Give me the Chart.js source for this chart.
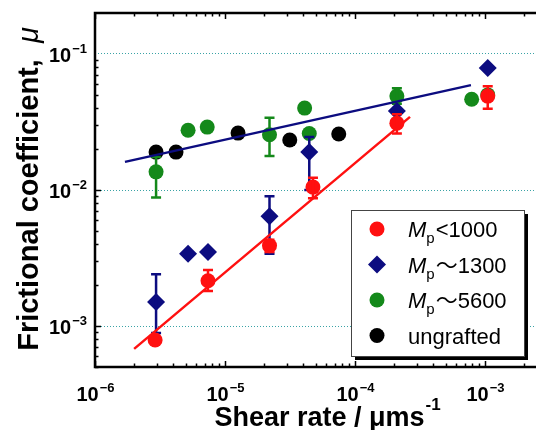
<!DOCTYPE html>
<html>
<head>
<meta charset="utf-8">
<script src="https://cdn.jsdelivr.net/npm/chart.js@4"></script>
<style>
html, body { margin: 0; padding: 0; background: #fff; overflow: hidden; }
#wrap { width: 548px; height: 430px; }
</style>
</head>
<body>
<div id="wrap"><canvas id="chart" width="548" height="430"></canvas></div>
<script>
// shear rate (um/s) and frictional coefficient
var redX = [2.9e-6, 7.4e-6, 2.2e-5, 4.75e-5, 2.1e-4, 1.05e-3];
var redY = [7.9e-4, 2.15e-3, 3.9e-3, 1.05e-2, 3.1e-2, 4.9e-2];
var redLo = [null, 1.81e-3, 3.5e-3, 8.7e-3, 2.6e-2, 3.95e-2];
var redHi = [null, 2.58e-3, 4.3e-3, 1.23e-2, 3.6e-2, 5.8e-2];

var navyX = [2.95e-6, 5.2e-6, 7.4e-6, 2.2e-5, 4.45e-5, 2.1e-4, 1.05e-3];
var navyY = [1.5e-3, 3.4e-3, 3.5e-3, 6.4e-3, 1.9e-2, 3.8e-2, 7.9e-2];
var navyLo = [8.9e-4, null, null, 3.4e-3, 1.0e-2, null, null];
var navyHi = [2.4e-3, null, null, 9.0e-3, 2.45e-2, null, null];

var greenX = [2.95e-6, 5.2e-6, 7.3e-6, 2.2e-5, 4.1e-5, 4.45e-5, 2.1e-4, 7.9e-4, 1.05e-3];
var greenY = [1.36e-2, 2.75e-2, 2.9e-2, 2.55e-2, 4.0e-2, 2.6e-2, 4.9e-2, 4.65e-2, 5.0e-2];
var greenLo = [8.8e-3, null, null, 1.78e-2, null, null, 4.3e-2, null, null];
var greenHi = [1.75e-2, null, null, 3.4e-2, null, null, 5.6e-2, null, null];

var blackX = [2.95e-6, 4.2e-6, 1.26e-5, 3.15e-5, 7.5e-5];
var blackY = [1.9e-2, 1.9e-2, 2.62e-2, 2.33e-2, 2.58e-2];
var blackLo = [null, null, null, 2.15e-2, null];
var blackHi = [null, null, null, 2.45e-2, null];

// fitted lines (end points)
var redFitX = [2.0e-6, 2.65e-4];
var redFitY = [6.8e-4, 3.45e-2];
var navyFitX = [1.7e-6, 7.8e-4];
var navyFitY = [1.61e-2, 5.9e-2];

var legendSub = [true, true, true, false];
var legendText = ['<1000', '\u301C1300', '\u301C5600', 'ungrafted'];

var xDecades = [-6, -5, -4, -3];
var yDecades = [-3, -2, -1];

var RED = '#ff1010', NAVY = '#0c0c80', GREEN = '#14891a', BLACK = '#000000';
var FONT = "'Liberation Sans', Arial, 'Noto Sans CJK JP', sans-serif";

function pts(xs, ys) {
    var out = [];
    for (var i = 0; i < xs.length; i++) out.push({x: xs[i], y: ys[i]});
    return out;
}

function isDecade(v) {
    var l = Math.log10(v);
    return Math.abs(l - Math.round(l)) < 1e-6;
}

var errorBars = {
    id: 'errorBars',
    afterDatasetDraw: function(chart, args) {
        var ds = chart.data.datasets[args.index];
        if (!ds.errLo) return;
        var ctx = chart.ctx, xs = chart.scales.x, ys = chart.scales.y;
        ctx.save();
        ctx.strokeStyle = ds.borderColor;
        ctx.lineWidth = 2.5;
        for (var i = 0; i < ds.data.length; i++) {
            if (ds.errLo[i] == null) continue;
            var px = xs.getPixelForValue(ds.data[i].x);
            var lo = ys.getPixelForValue(ds.errLo[i]);
            var hi = ys.getPixelForValue(ds.errHi[i]);
            ctx.beginPath();
            ctx.moveTo(px, lo); ctx.lineTo(px, hi);
            ctx.moveTo(px - 5, lo); ctx.lineTo(px + 5, lo);
            ctx.moveTo(px - 5, hi); ctx.lineTo(px + 5, hi);
            ctx.stroke();
        }
        ctx.restore();
    }
};

function drawPow(ctx, exp, x, y, align) {
    ctx.font = 'bold 20px ' + FONT;
    var base = '10';
    var w1 = ctx.measureText(base).width;
    ctx.font = 'bold 13px ' + FONT;
    var sup = '\u2212' + Math.abs(exp);
    var w2 = ctx.measureText(sup).width;
    var start = align === 'center' ? x - (w1 + w2) / 2 : x - (w1 + w2);
    ctx.textAlign = 'left';
    ctx.textBaseline = 'alphabetic';
    ctx.font = 'bold 20px ' + FONT;
    ctx.fillText(base, start, y);
    ctx.font = 'bold 13px ' + FONT;
    ctx.fillText(sup, start + w1 + 1, y - 9);
}

var frame = {
    id: 'frame',
    afterDraw: function(chart) {
        var ctx = chart.ctx, a = chart.chartArea;
        var xs = chart.scales.x, ys = chart.scales.y;
        ctx.save();
        ctx.fillStyle = '#000';
        ctx.strokeStyle = '#000';

        // minor + major ticks, pointing inward
        ctx.lineWidth = 1.5;
        ctx.beginPath();
        for (var d = -7; d <= -2; d++) {
            for (var m = 1; m <= 9; m++) {
                var v = m * Math.pow(10, d);
                if (v < xs.min || v > xs.max) continue;
                var len = m === 1 ? 6 : 3.5;
                var px = Math.round(xs.getPixelForValue(v)) + 0.5;
                ctx.moveTo(px, a.bottom); ctx.lineTo(px, a.bottom - len);
                ctx.moveTo(px, a.top); ctx.lineTo(px, a.top + len);
            }
            for (var n = 1; n <= 9; n++) {
                var vy = n * Math.pow(10, d);
                if (vy < ys.min || vy > ys.max) continue;
                var leny = n === 1 ? 6 : 3.5;
                var py = Math.round(ys.getPixelForValue(vy)) + 0.5;
                ctx.moveTo(a.left, py); ctx.lineTo(a.left + leny, py);
                ctx.moveTo(a.right, py); ctx.lineTo(a.right - leny, py);
            }
        }
        ctx.stroke();

        ctx.lineWidth = 2.5;
        ctx.strokeRect(a.left, a.top, a.right - a.left, a.bottom - a.top);

        // tick labels
        xDecades.forEach(function(e) {
            drawPow(ctx, e, xs.getPixelForValue(Math.pow(10, e)), 401, 'center');
        });
        yDecades.forEach(function(e) {
            var py = ys.getPixelForValue(Math.pow(10, e));
            drawPow(ctx, e, 86, py + 8, 'right');
        });

        // x title
        ctx.textBaseline = 'alphabetic';
        ctx.textAlign = 'left';
        ctx.font = 'bold 27px ' + FONT;
        var t1 = 'Shear rate / \u03BCms';
        var w1 = ctx.measureText(t1).width;
        ctx.font = 'bold 17px ' + FONT;
        var w2 = ctx.measureText('-1').width;
        var sx = 327 - (w1 + w2) / 2;
        ctx.font = 'bold 27px ' + FONT;
        ctx.fillText(t1, sx, 426);
        ctx.font = 'bold 17px ' + FONT;
        ctx.fillText('-1', sx + w1 + 1, 410);

        // y title
        ctx.save();
        ctx.translate(38, 189);
        ctx.rotate(-Math.PI / 2);
        ctx.font = 'bold 29px ' + FONT;
        var y1 = 'Frictional coefficient,  ';
        var yw1 = ctx.measureText(y1).width;
        ctx.font = 'italic 29px ' + FONT;
        var yw2 = ctx.measureText('\u03BC').width;
        var ys0 = -(yw1 + yw2) / 2;
        ctx.font = 'bold 29px ' + FONT;
        ctx.fillText(y1, ys0, 0);
        ctx.font = 'italic 29px ' + FONT;
        ctx.fillText('\u03BC', ys0 + yw1, 0);
        ctx.restore();

        // legend box with shadow
        var bx = 351, by = 210, bw = 173, bh = 146;
        ctx.fillStyle = '#000';
        ctx.fillRect(bx + 4, by + 4, bw, bh);
        ctx.fillStyle = '#fff';
        ctx.fillRect(bx, by, bw, bh);
        ctx.lineWidth = 1;
        ctx.strokeStyle = '#444';
        ctx.strokeRect(bx + 0.5, by + 0.5, bw, bh);

        var sets = chart.data.datasets.filter(function(s) { return s.inLegend; });
        sets.forEach(function(s, i) {
            var cy = 229 + i * 35.5;
            ctx.fillStyle = s.backgroundColor;
            ctx.beginPath();
            if (s.pointStyle === 'rectRot') {
                var r = s.pointRadius;
                ctx.moveTo(377 - r, cy); ctx.lineTo(377, cy - r);
                ctx.lineTo(377 + r, cy); ctx.lineTo(377, cy + r);
            } else {
                ctx.arc(377, cy, s.pointRadius, 0, Math.PI * 2);
            }
            ctx.closePath();
            ctx.fill();

            ctx.fillStyle = '#000';
            var tx = 408, base = cy + 8;
            if (legendSub[i]) {
                ctx.font = 'italic 22px ' + FONT;
                ctx.fillText('M', tx, base);
                tx += ctx.measureText('M').width;
                ctx.font = '15px ' + FONT;
                ctx.fillText('p', tx, base + 6);
                tx += ctx.measureText('p').width + 1;
            }
            ctx.font = "22px " + FONT;
            ctx.fillText(legendText[i], tx, base);
        });
        ctx.restore();
    }
};

new Chart(document.getElementById('chart'), {
    type: 'scatter',
    data: {
        datasets: [
            {label: 'red fit', type: 'line', data: pts(redFitX, redFitY), borderColor: RED,
             borderWidth: 2.5, pointRadius: 0, fill: false, order: 0},
            {label: 'navy fit', type: 'line', data: pts(navyFitX, navyFitY), borderColor: NAVY,
             borderWidth: 2.5, pointRadius: 0, fill: false, order: 0},
            {label: 'Mp<1000', data: pts(redX, redY), errLo: redLo, errHi: redHi, inLegend: true,
             backgroundColor: RED, borderColor: RED, pointStyle: 'circle', pointRadius: 7.5, borderWidth: 0, order: 1},
            {label: 'Mp~1300', data: pts(navyX, navyY), errLo: navyLo, errHi: navyHi, inLegend: true,
             backgroundColor: NAVY, borderColor: NAVY, pointStyle: 'rectRot', pointRadius: 9, borderWidth: 0, order: 2},
            {label: 'Mp~5600', data: pts(greenX, greenY), errLo: greenLo, errHi: greenHi, inLegend: true,
             backgroundColor: GREEN, borderColor: GREEN, pointStyle: 'circle', pointRadius: 7.5, borderWidth: 0, order: 3},
            {label: 'ungrafted', data: pts(blackX, blackY), errLo: blackLo, errHi: blackHi, inLegend: true,
             backgroundColor: BLACK, borderColor: BLACK, pointStyle: 'circle', pointRadius: 7.5, borderWidth: 0, order: 4}
        ]
    },
    options: {
        responsive: false,
        animation: false,
        // the frame runs past the right edge of the picture (canvas is wider than the window)
        layout: {autoPadding: false, padding: {left: 95, top: 13, right: 1, bottom: 63}},
        plugins: {legend: {display: false}, tooltip: {enabled: false}},
        scales: {
            x: {
                type: 'logarithmic', min: 1e-6, max: 3e-3,
                ticks: {display: false},
                grid: {display: false, drawTicks: false},
                border: {display: false}
            },
            y: {
                type: 'logarithmic', min: 5e-4, max: 2e-1,
                ticks: {display: false},
                grid: {
                    drawTicks: false,
                    lineWidth: 1,
                    color: function(c) {
                        return c.tick && isDecade(c.tick.value) ? '#3aa3a6' : 'rgba(0,0,0,0)';
                    }
                },
                border: {display: false, dash: [1, 2]}
            }
        }
    },
    plugins: [errorBars, frame]
});
</script>
</body>
</html>
